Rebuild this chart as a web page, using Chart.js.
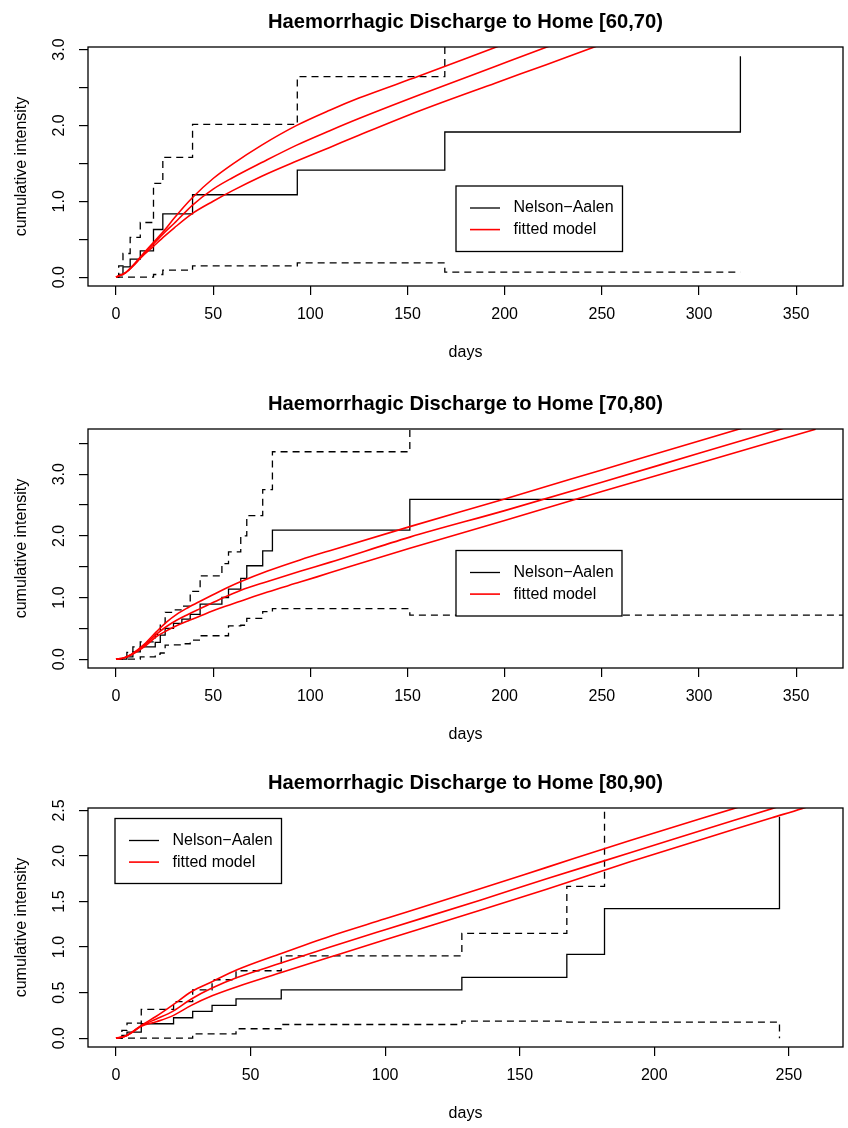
<!DOCTYPE html>
<html>
<head>
<meta charset="utf-8">
<title>Haemorrhagic Discharge to Home</title>
<script src="https://cdn.jsdelivr.net/npm/chart.js@4.4.1/dist/chart.umd.min.js"></script>
<style>
  body { margin: 0; background: #fff; }
  #wrap { position: relative; width: 848px; height: 1128px; background: #fff; }
  canvas { position: absolute; left: 0; }
</style>
</head>
<body>
<div id="wrap">
  <canvas id="age6070" width="848" height="367" style="top:0px"></canvas>
  <canvas id="age7080" width="848" height="367" style="top:382px"></canvas>
  <canvas id="age8090" width="848" height="367" style="top:761px"></canvas>
</div>
<script>
// ================= AGE [60,70) =================
const naTimes6070 = [0, 1.4, 3.6, 7.3, 12.5, 19.3, 24.1, 39.4, 93.3, 169.2, 321.3];
const na6070      = [0, 0.035, 0.136, 0.237, 0.347, 0.628, 0.835, 1.086, 1.411, 1.913, 2.91];
const naUpper6070 = [0, 0.149, 0.312, 0.523, 0.72, 1.235, 1.578, 2.013, 2.642, 4.6, 4.6];
const naLower6070 = [0, 0, 0, 0, 0, 0.035, 0.092, 0.149, 0.189, 0.066, 0.066];

const fitTimes6070 = [0, 5, 9, 13, 19, 25, 30, 39.4, 50, 60, 75, 93, 110, 125, 156, 195.4, 221.4, 245.8, 300, 360];
const fitHigh6070  = [0, 0.06, 0.16, 0.28, 0.45, 0.62, 0.78, 1.05, 1.30, 1.49, 1.74, 2.00, 2.20, 2.36, 2.65, 3.03, 3.28, 3.52, 4.04, 4.62];
const fitMid6070   = [0, 0.06, 0.16, 0.27, 0.43, 0.59, 0.71, 0.95, 1.16, 1.31, 1.51, 1.74, 1.93, 2.09, 2.40, 2.78, 3.03, 3.26, 3.77, 4.34];
const fitLow6070   = [0, 0.06, 0.15, 0.26, 0.40, 0.54, 0.65, 0.84, 1.00, 1.14, 1.33, 1.53, 1.71, 1.87, 2.19, 2.56, 2.80, 3.03, 3.53, 4.08];

// ================= AGE [70,80) =================
const naTimes7080 = [0, 5.6, 8.7, 12.5, 20.2, 22.8, 25.3, 29.6, 33.9, 38.2, 43.3, 54.5, 57.9, 64.2, 67.3, 75.5, 80.5, 151.2, 380];
const na7080      = [0, 0.038, 0.119, 0.2, 0.271, 0.39, 0.498, 0.579, 0.649, 0.725, 0.893, 1.0, 1.136, 1.31, 1.515, 1.758, 2.094, 2.593, 2.593];
const naUpper7080 = [0, 0.11, 0.2, 0.28, 0.40, 0.58, 0.76, 0.80, 0.86, 1.10, 1.35, 1.55, 1.74, 2.0, 2.33, 2.75, 3.365, 4.5, 4.5];
const naLower7080 = [0, 0, 0, 0.038, 0.081, 0.1, 0.227, 0.23, 0.25, 0.308, 0.38, 0.38, 0.54, 0.55, 0.66, 0.77, 0.82, 0.714, 0.714];

const fitTimes7080 = [0, 4, 8, 14.5, 21, 26, 31.4, 37, 43.3, 53, 64, 78, 94.7, 110, 151.2, 200, 250, 300, 360];
const fitHigh7080  = [0, 0.02, 0.08, 0.24, 0.45, 0.60, 0.73, 0.835, 0.94, 1.095, 1.255, 1.43, 1.61, 1.76, 2.15, 2.60, 3.07, 3.54, 4.10];
const fitMid7080   = [0, 0.02, 0.075, 0.22, 0.41, 0.53, 0.635, 0.725, 0.82, 0.965, 1.115, 1.26, 1.425, 1.57, 1.98, 2.41, 2.87, 3.34, 3.90];
const fitLow7080   = [0, 0.02, 0.07, 0.20, 0.37, 0.46, 0.545, 0.62, 0.70, 0.82, 0.94, 1.09, 1.25, 1.40, 1.80, 2.25, 2.72, 3.18, 3.73];

// ================= AGE [80,90) =================
const naTimes8090 = [0, 2.2, 4.1, 9.4, 21.4, 28.5, 35.7, 44.6, 61.4, 128.5, 167.5, 181.5, 246.5];
const na8090      = [0, 0.03, 0.066, 0.158, 0.224, 0.293, 0.359, 0.432, 0.531, 0.668, 0.92, 1.422, 2.43];
const naUpper8090 = [0, 0.085, 0.165, 0.315, 0.40, 0.531, 0.641, 0.74, 0.904, 1.151, 1.667, 4.0, 4.0];
const naLower8090 = [0, 0, 0, 0, 0, 0.048, 0.048, 0.103, 0.15, 0.187, 0.176, 0.176, 0];

const fitTimes8090 = [0, 3.4, 5.9, 9.4, 15, 21.4, 28, 35.7, 45, 61.4, 79.6, 100, 135.3, 160, 191, 229.4, 243.7, 254.8, 260];
const fitHigh8090  = [0, 0.02, 0.066, 0.14, 0.24, 0.37, 0.51, 0.62, 0.75, 0.93, 1.12, 1.31, 1.64, 1.875, 2.17, 2.52, 2.65, 2.75, 2.80];
const fitMid8090   = [0, 0.02, 0.064, 0.135, 0.21, 0.30, 0.43, 0.55, 0.665, 0.825, 1.00, 1.19, 1.515, 1.75, 2.035, 2.39, 2.52, 2.62, 2.67];
const fitLow8090   = [0, 0.02, 0.06, 0.13, 0.18, 0.25, 0.36, 0.465, 0.565, 0.72, 0.89, 1.08, 1.405, 1.635, 1.936, 2.29, 2.42, 2.52, 2.57];

// ================= AXES =================
const dayTicksLong  = [0, 50, 100, 150, 200, 250, 300, 350];
const dayTicksShort = [0, 50, 100, 150, 200, 250];
const yTicks6070 = [0, 0.5, 1, 1.5, 2, 2.5, 3];
const yLabels6070 = [0, 1, 2, 3];
const yTicks7080 = [0, 0.5, 1, 1.5, 2, 2.5, 3, 3.5];
const yLabels7080 = [0, 1, 2, 3];
const yTicks8090 = [0, 0.5, 1, 1.5, 2, 2.5];
const yLabels8090 = [0, 0.5, 1, 1.5, 2, 2.5];

const FONT = "'Liberation Sans', Arial, Helvetica, sans-serif";
Chart.defaults.font.family = FONT;
Chart.defaults.color = "#000";

const pts = (xs, ys) => xs.map((x, i) => ({ x, y: ys[i] }));

// box, rotated y labels, titles and legend in the R base-graphics look
const rFrame = {
  id: "rFrame",
  afterDraw(chart, args, o) {
    const { ctx, chartArea: a } = chart;
    const yScale = chart.scales.y;
    const midX = (a.left + a.right) / 2;
    ctx.save();
    ctx.strokeStyle = "#000";
    ctx.fillStyle = "#000";
    ctx.lineWidth = 1.3;
    ctx.strokeRect(a.left, a.top, a.right - a.left, a.bottom - a.top);

    ctx.font = "16px " + FONT;
    ctx.textAlign = "center";
    ctx.textBaseline = "middle";
    o.yLabels.forEach(v => {
      ctx.save();
      ctx.translate(a.left - 28.5, yScale.getPixelForValue(v));
      ctx.rotate(-Math.PI / 2);
      ctx.fillText(v.toFixed(1), 0, 0);
      ctx.restore();
    });

    ctx.save();
    ctx.translate(22, (a.top + a.bottom) / 2);
    ctx.rotate(-Math.PI / 2);
    ctx.fillText("cumulative intensity", 0, 0);
    ctx.restore();

    ctx.fillText("days", midX, 353);

    ctx.font = "bold 20.2px " + FONT;
    ctx.fillText(o.title, midX, 22);

    // legend
    const lg = o.legend;
    ctx.fillStyle = "#fff";
    ctx.fillRect(lg.x, lg.y, lg.w, lg.h);
    ctx.lineWidth = 1.3;
    ctx.strokeRect(lg.x, lg.y, lg.w, lg.h);
    const rows = [["Nelson\u2212Aalen", "#000"], ["fitted model", "#ff0000"]];
    ctx.font = "16px " + FONT;
    ctx.textAlign = "left";
    rows.forEach(([label, col], i) => {
      const ly = lg.y + 22 + i * 21.6;
      ctx.strokeStyle = col;
      ctx.lineWidth = col === "#000" ? 1.3 : 1.6;
      ctx.beginPath();
      ctx.moveTo(lg.x + 14, ly);
      ctx.lineTo(lg.x + 44, ly);
      ctx.stroke();
      ctx.fillStyle = "#000";
      ctx.fillText(label, lg.x + 57.5, ly);
    });
    ctx.restore();
  }
};

function makePanel(id, p) {
  const red = (data) => ({
    data, borderColor: "#ff0000", borderWidth: 1.6,
    cubicInterpolationMode: "monotone", pointRadius: 0
  });
  const blk = (data, dash) => ({
    data, borderColor: "#000", borderWidth: 1.3, stepped: true,
    borderDash: dash || [], pointRadius: 0
  });

  new Chart(document.getElementById(id), {
    type: "line",
    data: {
      datasets: [
        red(pts(p.fitTimes, p.fitHigh)),
        red(pts(p.fitTimes, p.fitMid)),
        red(pts(p.fitTimes, p.fitLow)),
        blk(pts(p.naTimes, p.na)),
        blk(pts(p.naTimes, p.upper), [7, 5]),
        blk(pts(p.naTimes, p.lower), [7, 5])
      ]
    },
    options: {
      responsive: false,
      animation: false,
      devicePixelRatio: 1,
      layout: { padding: { left: 88, right: 5, top: 47, bottom: 41 } },
      plugins: {
        legend: { display: false },
        tooltip: { enabled: false },
        rFrame: { title: p.title, yLabels: p.yLabels, legend: p.legend }
      },
      scales: {
        x: {
          type: "linear",
          min: p.xMin, max: p.xMax,
          afterBuildTicks: s => { s.ticks = p.xTicks.map(v => ({ value: v })); },
          afterFit: s => { s.height = 40; },
          grid: { drawOnChartArea: false, drawTicks: true, tickLength: 9, color: "#000", lineWidth: 1.2 },
          border: { display: false },
          ticks: { autoSkip: false, maxRotation: 0, padding: 10, font: { size: 16 }, color: "#000", callback: v => String(v) }
        },
        y: {
          type: "linear",
          min: p.yMin, max: p.yMax,
          afterBuildTicks: s => { s.ticks = p.yTicks.map(v => ({ value: v })); },
          afterFit: s => { s.width = 0; },
          grid: { drawOnChartArea: false, drawTicks: true, tickLength: 9, color: "#000", lineWidth: 1.2 },
          border: { display: false },
          ticks: { display: false }
        }
      }
    },
    plugins: [rFrame]
  });
}

makePanel("age6070", {
  title: "Haemorrhagic Discharge to Home [60,70)",
  naTimes: naTimes6070, na: na6070, upper: naUpper6070, lower: naLower6070,
  fitTimes: fitTimes6070, fitHigh: fitHigh6070, fitMid: fitMid6070, fitLow: fitLow6070,
  xMin: -14.4, xMax: 374.1, xTicks: dayTicksLong,
  yMin: -0.1166, yMax: 3.033, yTicks: yTicks6070, yLabels: yLabels6070,
  legend: { x: 456, y: 186, w: 166.5, h: 65.5 }
});

makePanel("age7080", {
  title: "Haemorrhagic Discharge to Home [70,80)",
  naTimes: naTimes7080, na: na7080, upper: naUpper7080, lower: naLower7080,
  fitTimes: fitTimes7080, fitHigh: fitHigh7080, fitMid: fitMid7080, fitLow: fitLow7080,
  xMin: -14.4, xMax: 374.1, xTicks: dayTicksLong,
  yMin: -0.1436, yMax: 3.734, yTicks: yTicks7080, yLabels: yLabels7080,
  legend: { x: 456, y: 168.5, w: 166, h: 65.5 }
});

makePanel("age8090", {
  title: "Haemorrhagic Discharge to Home [80,90)",
  naTimes: naTimes8090, na: na8090, upper: naUpper8090, lower: naLower8090,
  fitTimes: fitTimes8090, fitHigh: fitHigh8090, fitMid: fitMid8090, fitLow: fitLow8090,
  xMin: -10.39, xMax: 270.1, xTicks: dayTicksShort,
  yMin: -0.0972, yMax: 2.527, yTicks: yTicks8090, yLabels: yLabels8090,
  legend: { x: 115, y: 57.5, w: 166.5, h: 65 }
});
</script>
</body>
</html>
